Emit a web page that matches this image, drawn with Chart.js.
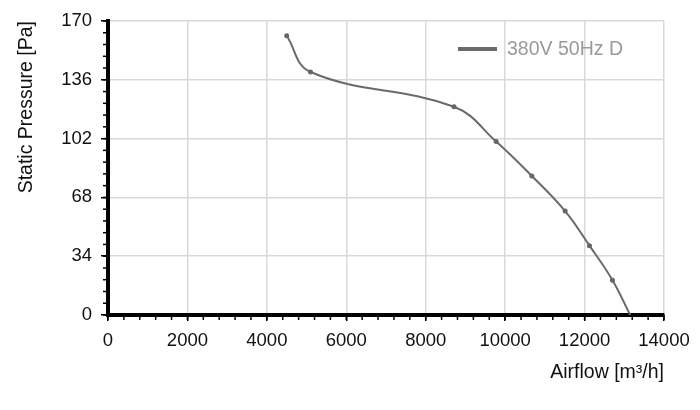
<!DOCTYPE html>
<html><head><meta charset="utf-8">
<script src="https://cdn.jsdelivr.net/npm/chart.js@4.4.0/dist/chart.umd.min.js"></script>
<style>html,body{margin:0;padding:0;background:#fff;}</style>
</head><body>
<canvas id="c" width="700" height="410" style="width:700px;height:410px;display:block"></canvas>
<script>
const seriesLabel = '380V 50Hz D';
const airflow  = [4500, 5100, 8713, 9773, 10672, 11511, 12124, 12703, 13149];
const pressure = [161.5, 140.5, 120.4, 100.3, 80.4, 60.1, 40.1, 20.1, 0];
const xTicks = [0, 2000, 4000, 6000, 8000, 10000, 12000, 14000];
const yTicks = [0, 34, 68, 102, 136, 170];
const xMinorStep = 400;
const yMinorStep = 6.8;

const FONT = "'Liberation Sans', Arial, Helvetica, sans-serif";
const LINE_COLOR = '#6a6a6a';

const minorTicks = {
  id: 'minorTicks',
  afterDraw(chart) {
    const ctx = chart.ctx, xs = chart.scales.x, ys = chart.scales.y;
    ctx.save();
    ctx.strokeStyle = '#000';
    ctx.lineWidth = 1.5;
    const nx = Math.round((xTicks[xTicks.length-1] - xTicks[0]) / xMinorStep);
    for (let i = 0; i <= nx; i++) {
      const px = xs.getPixelForValue(xTicks[0] + i * xMinorStep);
      ctx.beginPath(); ctx.moveTo(px, xs.top); ctx.lineTo(px, xs.top + 5); ctx.stroke();
    }
    const ny = Math.round((yTicks[yTicks.length-1] - yTicks[0]) / yMinorStep);
    for (let i = 0; i <= ny; i++) {
      const py = ys.getPixelForValue(yTicks[0] + i * yMinorStep);
      ctx.beginPath(); ctx.moveTo(ys.right, py); ctx.lineTo(ys.right - 5, py); ctx.stroke();
    }
    ctx.restore();
  }
};

const insideLegend = {
  id: 'insideLegend',
  afterDraw(chart) {
    const ctx = chart.ctx, a = chart.chartArea;
    const ds = chart.data.datasets[0];
    const x0 = a.right - 206, y0 = a.top + 28;
    ctx.save();
    ctx.strokeStyle = ds.borderColor;
    ctx.lineWidth = 4;
    ctx.beginPath(); ctx.moveTo(x0, y0); ctx.lineTo(x0 + 39, y0); ctx.stroke();
    ctx.fillStyle = '#9a9a9a';
    ctx.font = "19.5px " + FONT;
    ctx.textBaseline = 'middle';
    ctx.textAlign = 'left';
    ctx.fillText(ds.label, x0 + 49, y0 + 1);
    ctx.restore();
  }
};

new Chart(document.getElementById('c'), {
  type: 'line',
  data: {
    datasets: [{
      label: seriesLabel,
      data: airflow.map((x, i) => ({x, y: pressure[i]})),
      borderColor: LINE_COLOR,
      backgroundColor: LINE_COLOR,
      borderWidth: 2,
      tension: 0.4,
      pointRadius: airflow.map((x, i) => i === airflow.length - 1 ? 0 : 2.5),
      pointBackgroundColor: '#666',
      pointBorderWidth: 0,
      fill: false
    }]
  },
  options: {
    responsive: false,
    animation: false,
    devicePixelRatio: 1,
    layout: { padding: { left: 15, top: 21, right: 36, bottom: 26 } },
    plugins: {
      tooltip: { enabled: false },
      legend: { display: false }
    },
    scales: {
      x: {
        type: 'linear',
        min: xTicks[0], max: xTicks[xTicks.length-1],
        afterBuildTicks: s => { s.ticks = xTicks.map(v => ({value: v})); },
        afterFit: s => { s.height = 69; },
        border: { color: '#000', width: 4 },
        grid: { color: '#d9d9d9', lineWidth: 1.5, tickColor: '#000', tickLength: 6, tickWidth: 1.5 },
        ticks: { color: '#111', font: { family: FONT, size: 18.5 }, padding: 9, maxRotation: 0, autoSkip: false,
                 callback: v => String(v) },
        title: { display: true, text: 'Airflow [m³/h]', align: 'end', color: '#111', font: { family: FONT, size: 19.5 },
                 padding: { top: 0, bottom: 0, left: 0, right: 0 } }
      },
      y: {
        type: 'linear',
        min: yTicks[0], max: yTicks[yTicks.length-1],
        afterBuildTicks: s => { s.ticks = yTicks.map(v => ({value: v})); },
        afterFit: s => { s.width = 93; },
        border: { color: '#000', width: 4 },
        grid: { color: '#d9d9d9', lineWidth: 1.5, tickColor: '#000', tickLength: 7, tickWidth: 1.5 },
        ticks: { color: '#111', font: { family: FONT, size: 18.5 }, padding: 9, callback: v => String(v) },
        title: { display: true, text: 'Static Pressure [Pa]', align: 'end', color: '#111', font: { family: FONT, size: 19.5 }, padding: 0 }
      }
    }
  },
  plugins: [minorTicks, insideLegend]
});
</script>
</body></html>
